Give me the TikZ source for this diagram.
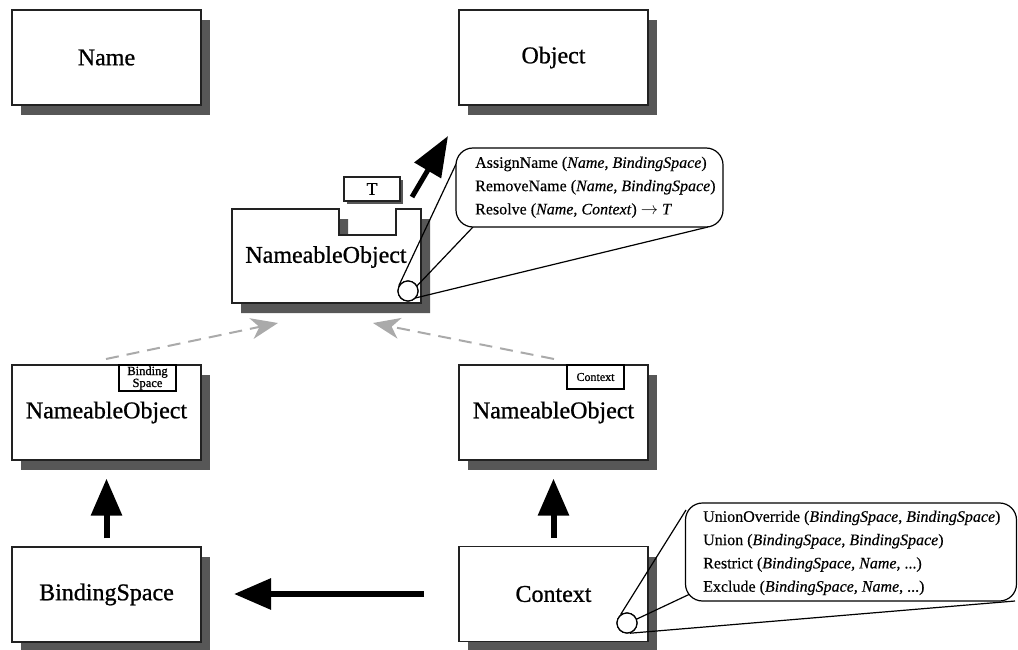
\documentclass[tikz,border=0pt]{standalone}
\usepackage{fontspec}
\setmainfont[FakeBold=0.4]{Liberation Serif}
\newfontfamily\heavyfont[FakeBold=0.9]{Liberation Serif}
\usetikzlibrary{arrows.meta,shadows,calc}
\definecolor{shadowc}{HTML}{575757}
\definecolor{dashc}{HTML}{AAAAAA}
\definecolor{edgec}{HTML}{222222}
\begin{document}
\begin{tikzpicture}[x=1pt,y=-1pt,
  box/.style={draw=edgec, line width=1.2pt, fill=white, minimum width=189pt, minimum height=95pt, inner sep=0pt,
    font=\heavyfont\fontsize{24}{28}\selectfont,
    general shadow={fill=shadowc, shadow xshift=9pt, shadow yshift=-10pt}},
  lbl/.style={inner sep=0pt, font=\heavyfont\fontsize{24}{28}\selectfont},
  tagbox/.style={draw=black, line width=1.6pt, fill=white, inner sep=0pt, align=center,
    font=\heavyfont\fontsize{12.5}{10.5}\selectfont, minimum width=57pt},
  tbox/.style={draw=edgec, line width=1.1pt, fill=white, inner sep=0pt, minimum width=56pt, minimum height=24pt,
    font=\heavyfont\fontsize{18}{20}\selectfont,
    general shadow={fill=shadowc, shadow xshift=3pt, shadow yshift=-3pt}},
  callbox/.style={draw=black, line width=1.2pt, fill=white, rounded corners=17pt, inner sep=0pt},
  calltext/.style={inner sep=0pt, align=left, font=\fontsize{16}{23.3}\selectfont, anchor=north west},
  lens/.style={draw=black, line width=1.2pt, fill=white, circle, inner sep=0pt, minimum size=20pt},
  callline/.style={draw=black, line width=1.2pt},
  bigarrow/.style={line width=6pt, -{Triangle[length=37pt,width=30pt]}},
  dasharrow/.style={draw=dashc, line width=2pt, dash pattern=on 13pt off 8pt,
    -{Stealth[length=27pt,width=21pt,inset=8pt]}}
]
\useasboundingbox (0,0) rectangle (1018,650);

% top row
\node[box] (name) at (106.5,57.5) {Name};
\node[box] (obj) at (553.5,57.5) {Object};

% notched NameableObject
\fill[shadowc, shift={(9,10)}] (232,209) -- (339,209) -- (339,235) -- (396,235) -- (396,209) -- (421,209) -- (421,303) -- (232,303) -- cycle;
\filldraw[draw=edgec, line width=1.2pt, fill=white] (232,209) -- (339,209) -- (339,235) -- (396,235) -- (396,209) -- (421,209) -- (421,303) -- (232,303) -- cycle;
\node[lbl] (nob) at (326,257) {NameableObject};
\node[tbox] (tt) at (372,189) {T};

% middle row
\node[box] (nl) at (106.5,412.5) {NameableObject};
\node[box] (nr) at (553.5,412.5) {NameableObject};
\node[tagbox, minimum height=26pt] (tagbs) at (147.5,378) {Binding\\Space};
\node[tagbox, minimum height=24pt, font=\heavyfont\fontsize{12}{12}\selectfont] (tagct) at (595.5,377) {Context};

% bottom row
\node[box] (bs) at (106.5,594.5) {BindingSpace};
\node[box] (ctx) at (553.5,594) {Context};

% thick arrows
\coordinate (aos) at (412,197);
\coordinate (aoe) at (448,136);
\draw[line width=5pt, -{Triangle[length=40pt,width=30pt]}] (aos) -- (aoe);
\draw[bigarrow, shorten <=8pt, shorten >=18pt] (bs.north) -- (nl.south);
\draw[bigarrow, shorten <=8pt, shorten >=18pt] (ctx.north) -- (nr.south);
\coordinate (lfs) at (424,594);
\coordinate (lfe) at (234,594);
\draw[bigarrow] (lfs) -- (lfe);

% dashed arrows
\coordinate (d1s) at (106,359);
\coordinate (d1e) at (278,323);
\coordinate (d2s) at (554,359);
\coordinate (d2e) at (373,323);
\draw[dasharrow] (d1s) -- (d1e);
\draw[dasharrow] (d2s) -- (d2e);

% callout 1
\node[lens] (k1) at (408,291) {};
\coordinate (c1a) at (457,162);
\coordinate (c1b) at (473,227);
\coordinate (c1c) at (708,227);
\draw[callline] (k1.150) -- (c1a);
\draw[callline] (k1.30) -- (c1b);
\draw[callline] (k1.-40) -- (c1c);
\node[callbox, minimum width=267pt, minimum height=79pt] (c1) at (589.5,187.5) {};
\node[calltext] (c1t) at (475,156.5) {AssignName (\textit{Name}, \textit{BindingSpace})\\RemoveName (\textit{Name}, \textit{BindingSpace})\\Resolve (\textit{Name}, \textit{Context}) \(\rightarrow\) \textit{T}};
\node[lens] (k1b) at (k1) {};

% callout 2
\node[lens] (k2) at (627,623) {};
\coordinate (c2a) at (686,510);
\coordinate (c2b) at (690,594);
\coordinate (c2c) at (1015,601);
\draw[callline] (k2.127) -- (c2a);
\draw[callline] (k2.22) -- (c2b);
\draw[callline] (k2.-75) -- (c2c);
\node[callbox, minimum width=331pt, minimum height=98pt] (c2) at (851,552) {};
\node[calltext] (c2t) at (703,510.5) {UnionOverride (\textit{BindingSpace}, \textit{BindingSpace})\\Union (\textit{BindingSpace}, \textit{BindingSpace})\\Restrict (\textit{BindingSpace}, \textit{Name}, ...)\\Exclude (\textit{BindingSpace}, \textit{Name}, ...)};
\node[lens] (k2b) at (k2) {};
\end{tikzpicture}
\end{document}
